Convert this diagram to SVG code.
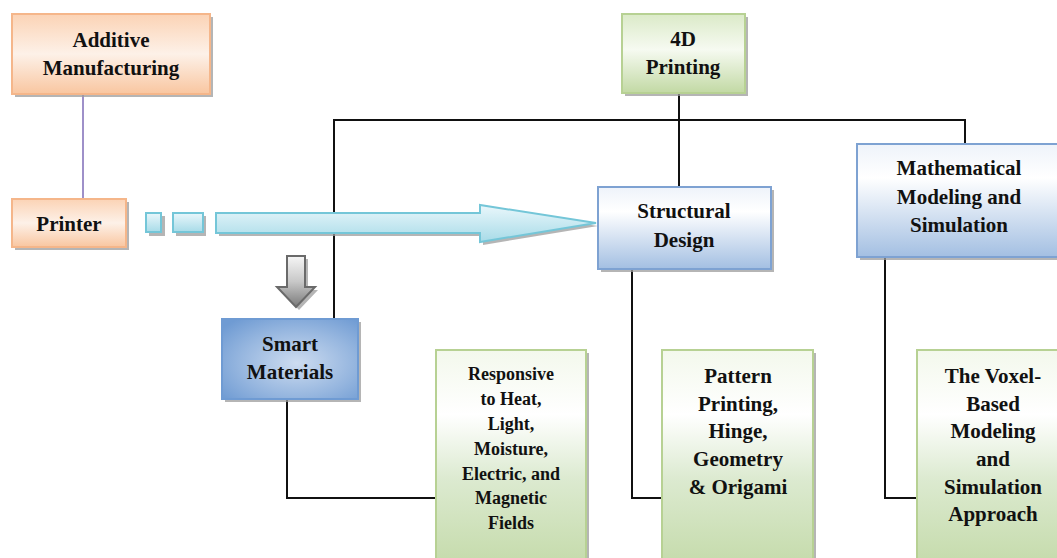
<svg xmlns="http://www.w3.org/2000/svg" width="1057" height="558" viewBox="0 0 1057 558">
<defs>
<linearGradient id="gOrange" x1="0" y1="0" x2="0" y2="1">
<stop offset="0" stop-color="#fbd3b5"/>
<stop offset="0.5" stop-color="#fdf1e8"/>
<stop offset="1" stop-color="#f9c6a0"/>
</linearGradient>
<linearGradient id="gGreenTop" x1="0" y1="0" x2="0" y2="1">
<stop offset="0" stop-color="#dbeac8"/>
<stop offset="0.45" stop-color="#f6faf1"/>
<stop offset="1" stop-color="#c2d9a4"/>
</linearGradient>
<linearGradient id="gGreen" x1="0" y1="0" x2="0" y2="1">
<stop offset="0" stop-color="#f3f8ec"/>
<stop offset="0.3" stop-color="#ffffff"/>
<stop offset="0.6" stop-color="#dcead0"/>
<stop offset="1" stop-color="#c5dbab"/>
</linearGradient>
<linearGradient id="gBlue" x1="0" y1="0" x2="0" y2="1">
<stop offset="0" stop-color="#eef3fa"/>
<stop offset="0.3" stop-color="#ffffff"/>
<stop offset="1" stop-color="#a3bfe2"/>
</linearGradient>
<radialGradient id="gSmart" cx="0.55" cy="0.55" r="0.7">
<stop offset="0" stop-color="#cddcf0"/>
<stop offset="0.6" stop-color="#96b6df"/>
<stop offset="1" stop-color="#6f9bd3"/>
</radialGradient>
<linearGradient id="gArrow" x1="0" y1="0" x2="0" y2="1">
<stop offset="0" stop-color="#eaf7fb"/>
<stop offset="1" stop-color="#a7dbe8"/>
</linearGradient>
<linearGradient id="gGray" x1="0" y1="0" x2="0" y2="1">
<stop offset="0" stop-color="#f6f6f6"/>
<stop offset="0.5" stop-color="#c8c8c8"/>
<stop offset="1" stop-color="#7a7a7a"/>
</linearGradient>
<style>
.sh{fill:#9c9c9c;opacity:0.75}
.or{fill:url(#gOrange);stroke:#f5b68a;stroke-width:2}
.gt{fill:url(#gGreenTop);stroke:#b7d193;stroke-width:2}
.gr{fill:url(#gGreen);stroke:#b7d193;stroke-width:2}
.bl{fill:url(#gBlue);stroke:#7ea2d2;stroke-width:2}
.sm{fill:url(#gSmart);stroke:#6f9bd3;stroke-width:2}
text{font-family:"Liberation Serif","Times New Roman",serif;font-weight:bold;fill:#111;text-anchor:middle}
.t21{font-size:21px}
.t18{font-size:18px}
.ln{fill:none;stroke:#111;stroke-width:2}
</style>
</defs>
<rect width="1057" height="558" fill="#ffffff"/>

<g id="connectors">
<line x1="83" y1="95" x2="83" y2="199" stroke="#9e90c9" stroke-width="2"/>
<polyline class="ln" points="679,93 679,187"/>
<polyline class="ln" points="334,319 334,120 965,120 965,144"/>
<polyline class="ln" points="632,269 632,498 662,498"/>
<polyline class="ln" points="885,257 885,498 917,498"/>
<polyline class="ln" points="287,399 287,498 436,498"/>
</g>

<g id="flow-arrow">
<rect class="sh" x="149" y="216" width="16" height="20"/>
<rect class="sh" x="176" y="216" width="30" height="20"/>
<path class="sh" d="M219,216 L483,216 L483,208 L598,226 L483,245 L483,236 L219,236 Z"/>
<rect x="146" y="213" width="15" height="19" fill="url(#gArrow)" stroke="#74c6d8" stroke-width="2"/>
<rect x="173" y="213" width="30" height="19" fill="url(#gArrow)" stroke="#74c6d8" stroke-width="2"/>
<path d="M216,213 L480,213 L480,205 L596,223 L480,242 L480,233 L216,233 Z" fill="url(#gArrow)" stroke="#74c6d8" stroke-width="2"/>
</g>

<g id="down-arrow">
<path class="sh" d="M290,259 L308,259 L308,290 L318,290 L299,310 L280,290 L290,290 Z"/>
<path d="M287,256 L305,256 L305,287 L315,287 L296,307 L277,287 L287,287 Z" fill="url(#gGray)" stroke="#6a6a6a" stroke-width="2"/>
</g>

<g id="additive">
<rect class="sh" x="15" y="17" width="198" height="80"/>
<rect class="or" x="12" y="14" width="198" height="80"/>
<text class="t21" x="111" y="47">Additive</text>
<text class="t21" x="111" y="75">Manufacturing</text>
</g>

<g id="printer">
<rect class="sh" x="15" y="202" width="114" height="48"/>
<rect class="or" x="12" y="199" width="114" height="48"/>
<text class="t21" x="69" y="231">Printer</text>
</g>

<g id="printing4d">
<rect class="sh" x="625" y="17" width="123" height="79"/>
<rect class="gt" x="622" y="14" width="123" height="79"/>
<text class="t21" x="683" y="46">4D</text>
<text class="t21" x="683" y="74">Printing</text>
</g>

<g id="structural">
<rect class="sh" x="601" y="190" width="173" height="82"/>
<rect class="bl" x="598" y="187" width="173" height="82"/>
<text class="t21" x="684" y="218">Structural</text>
<text class="t21" x="684" y="247">Design</text>
</g>

<g id="math">
<rect class="sh" x="860" y="147" width="204" height="113"/>
<rect class="bl" x="857" y="144" width="204" height="113"/>
<text class="t21" x="959" y="175">Mathematical</text>
<text class="t21" x="959" y="204">Modeling and</text>
<text class="t21" x="959" y="232">Simulation</text>
</g>

<g id="smart">
<rect class="sh" x="225" y="322" width="136" height="80"/>
<rect class="sm" x="222" y="319" width="136" height="80"/>
<text class="t21" x="290" y="351">Smart</text>
<text class="t21" x="290" y="379">Materials</text>
</g>

<g id="responsive">
<rect class="sh" x="439" y="353" width="150" height="215"/>
<rect class="gr" x="436" y="350" width="150" height="215"/>
<text class="t18" x="511" y="380">Responsive</text>
<text class="t18" x="511" y="405">to Heat,</text>
<text class="t18" x="511" y="430">Light,</text>
<text class="t18" x="511" y="455">Moisture,</text>
<text class="t18" x="511" y="480">Electric, and</text>
<text class="t18" x="511" y="504">Magnetic</text>
<text class="t18" x="511" y="529">Fields</text>
</g>

<g id="pattern">
<rect class="sh" x="665" y="353" width="151" height="215"/>
<rect class="gr" x="662" y="350" width="151" height="215"/>
<text class="t21" x="738" y="383">Pattern</text>
<text class="t21" x="738" y="411">Printing,</text>
<text class="t21" x="738" y="438">Hinge,</text>
<text class="t21" x="738" y="466">Geometry</text>
<text class="t21" x="738" y="494">&amp; Origami</text>
</g>

<g id="voxel">
<rect class="sh" x="920" y="353" width="152" height="215"/>
<rect class="gr" x="917" y="350" width="152" height="215"/>
<text class="t21" x="993" y="383">The Voxel-</text>
<text class="t21" x="993" y="411">Based</text>
<text class="t21" x="993" y="438">Modeling</text>
<text class="t21" x="993" y="466">and</text>
<text class="t21" x="993" y="494">Simulation</text>
<text class="t21" x="993" y="521">Approach</text>
</g>
</svg>
